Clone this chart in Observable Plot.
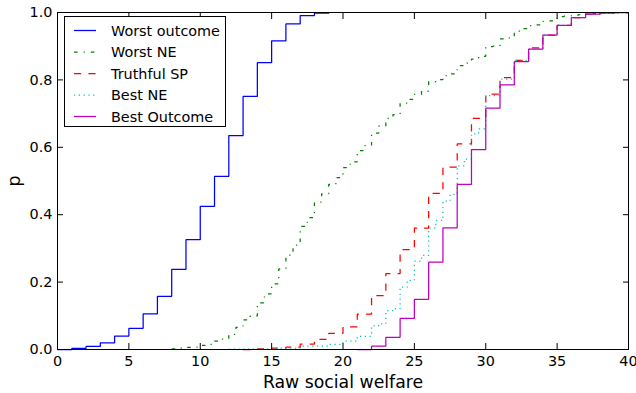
<!DOCTYPE html>
<html><head><meta charset="utf-8">
<script src="https://cdn.jsdelivr.net/npm/d3@7"></script>
<script src="https://cdn.jsdelivr.net/npm/@observablehq/plot@0.6"></script>
<style>
body{margin:0;background:#fff;}
#wrap{position:relative;width:636px;height:393px;font-family:"DejaVu Sans",sans-serif;}
#legend{position:absolute;left:0;top:0;pointer-events:none;}
</style></head>
<body><div id="wrap"></div>
<script>
const xTicks = [0, 5, 10, 15, 20, 25, 30, 35, 40];
const yTicks = [0, 0.2, 0.4, 0.6, 0.8, 1.0];
const seriesNames = ["Worst outcome", "Worst NE", "Truthful SP", "Best NE", "Best Outcome"];
const seriesColors = ["#0000ff", "#008000", "#ff0000", "#00bfbf", "#bf00bf"];
const seriesDashes = [null, "3.6,6,1.2,6", "7.2,7.2", "1.2,3.6", null];

const worstOutcomeX = [0,1,2,3,4,5,6,7,8,9,10,11,12,13,14,15,16,17,18,19];
const worstOutcomeP = [0,0.003,0.009,0.02,0.04,0.063,0.106,0.158,0.238,0.326,0.425,0.514,0.635,0.751,0.851,0.916,0.966,0.991,0.998,1.0];

const worstNEX = [8,8.5,9,9.5,10,10.5,11,11.5,12,12.5,13,13.5,14,14.5,15,15.5,16,16.5,17,17.5,18,18.5,19,19.5,20,20.5,21,21.5,22,22.5,23,23.5,24,24.5,25,25.5,26,26.5,27,27.5,28,28.5,29,29.5,30,30.5,31,31.5,32,32.5,33,33.5,34,34.5,35,35.5,36,36.5,37,38,40];
const worstNEP = [0.002,0.004,0.006,0.007,0.012,0.015,0.025,0.031,0.045,0.066,0.088,0.1,0.138,0.165,0.195,0.239,0.28,0.31,0.365,0.391,0.437,0.462,0.49,0.51,0.54,0.557,0.59,0.605,0.642,0.663,0.686,0.697,0.731,0.742,0.757,0.767,0.795,0.801,0.813,0.818,0.842,0.85,0.862,0.87,0.899,0.9,0.922,0.925,0.945,0.952,0.961,0.963,0.974,0.975,0.988,0.99,0.992,0.994,0.997,1.0,1.0];

const truthfulSPX = [13,14,15,16,17,18,19,20,21,22,23,24,25,26,27,28,29,30,31,32,33,34,35,36,37,38,39,40];
const truthfulSPP = [0,0.002,0.004,0.007,0.016,0.03,0.048,0.067,0.105,0.16,0.225,0.296,0.36,0.463,0.541,0.61,0.686,0.758,0.807,0.858,0.895,0.933,0.962,0.985,0.995,0.998,1.0,1.0];

const bestNEX = [12,15,17,19,20,21,22,22.5,23,23.5,24,24.5,25,25.5,26,26.5,27,27.5,28,28.5,29,29.5,30,31,32,33,34,35,36,37,38,39,40];
const bestNEP = [0.001,0.004,0.01,0.015,0.025,0.039,0.07,0.076,0.115,0.121,0.185,0.205,0.262,0.279,0.36,0.383,0.44,0.46,0.545,0.565,0.64,0.655,0.753,0.802,0.858,0.891,0.933,0.962,0.985,0.995,0.998,1.0,1.0];

const bestOutcomeX = [21,22,23,24,25,26,27,28,29,30,31,32,33,34,35,36,37,38,39,40];
const bestOutcomeP = [0,0.01,0.036,0.092,0.149,0.259,0.361,0.49,0.593,0.716,0.785,0.854,0.891,0.933,0.962,0.985,0.995,0.998,1.0,1.0];

const seriesXs = [worstOutcomeX, worstNEX, truthfulSPX, bestNEX, bestOutcomeX];
const seriesPs = [worstOutcomeP, worstNEP, truthfulSPP, bestNEP, bestOutcomeP];

const lineMarks = seriesNames.map((name, i) => {
  const data = seriesXs[i].map((x, j) => ({x, p: seriesPs[i][j]}));
  return Plot.line(data, {
    x: "x", y: "p", curve: "step-after",
    stroke: seriesColors[i], strokeWidth: 1.25,
    strokeDasharray: seriesDashes[i] || undefined,
    strokeLinecap: "butt", strokeLinejoin: "miter"
  });
});

const chart = Plot.plot({
  width: 636, height: 393,
  marginLeft: 57, marginRight: 8, marginTop: 12, marginBottom: 44,
  style: {fontFamily: "DejaVu Sans", fontSize: "14.4px", background: "white", color: "black"},
  x: {domain: [0, 40]},
  y: {domain: [0, 1]},
  marks: [
    ...lineMarks,
    Plot.frame({stroke: "black", strokeWidth: 1}),
    Plot.axisX(xTicks, {anchor: "bottom", tickSize: -6, tickFormat: () => "", label: null}),
    Plot.axisX(xTicks, {anchor: "top", tickSize: -6, tickFormat: () => "", label: null}),
    Plot.axisY(yTicks, {anchor: "left", tickSize: -6, tickFormat: () => "", label: null}),
    Plot.axisY(yTicks, {anchor: "right", tickSize: -6, tickFormat: () => "", label: null}),
    Plot.axisX(xTicks, {anchor: "bottom", tickSize: 0, tickPadding: 6, fontSize: 14.4, label: null}),
    Plot.axisY(yTicks, {anchor: "left", tickSize: 0, tickPadding: 5, fontSize: 14.4, tickFormat: d3.format(".1f"), label: null}),
    Plot.axisX([], {anchor: "bottom", tickSize: 0, label: "Raw social welfare", labelAnchor: "center", labelArrow: "none", labelOffset: 38, fontSize: 17.3}),
    Plot.axisY([], {anchor: "left", tickSize: 0, label: "p", labelAnchor: "center", labelArrow: "none", labelOffset: 50, fontSize: 17.3})
  ]
});
const wrap = document.getElementById("wrap");
wrap.appendChild(chart);

// legend overlay
const lg = d3.select(wrap).append("svg").attr("id", "legend").attr("width", 636).attr("height", 393);
lg.append("rect").attr("x", 64.5).attr("y", 16.5).attr("width", 161).attr("height", 110)
  .attr("fill", "white").attr("stroke", "black").attr("stroke-width", 1);
seriesNames.forEach((name, i) => {
  const y = 30.5 + i * 21.5;
  lg.append("line").attr("x1", 74).attr("x2", 96).attr("y1", y).attr("y2", y)
    .attr("stroke", seriesColors[i]).attr("stroke-width", 1.25)
    .attr("stroke-dasharray", seriesDashes[i]);
  lg.append("text").attr("x", 111).attr("y", y).attr("dy", "0.36em")
    .attr("font-family", "DejaVu Sans").attr("font-size", 14.4).attr("fill", "black").text(name);
});
</script></body></html>
